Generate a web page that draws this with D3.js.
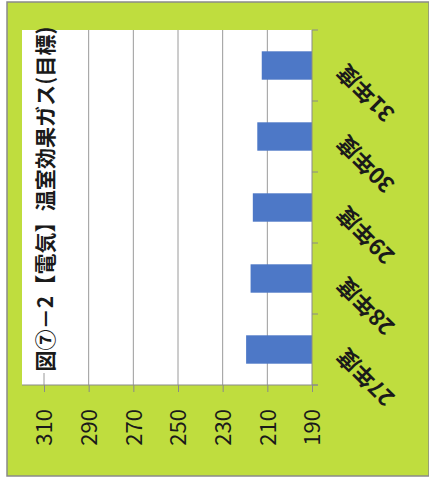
<!DOCTYPE html>
<html>
<head>
<meta charset="utf-8">
<script src="https://cdn.jsdelivr.net/npm/d3@7"></script>
<style>
  html, body { margin: 0; padding: 0; background: #ffffff; }
  svg { display: block; }
  text { font-family: "Noto Sans CJK JP", "Noto Sans", sans-serif; }
</style>
</head>
<body>
<svg id="chart" width="429" height="483"></svg>
<script>
// 温室効果ガス（目標）: 年度別の値
const categories = ["27年度", "28年度", "29年度", "30年度", "31年度"];
const values = [219.5, 217.5, 216.5, 214.5, 212.5];
const tickValues = [190, 210, 230, 250, 270, 290, 310];
const title = "図⑦－2【電気】温室効果ガス(目標)";

const svg = d3.select("#chart");
const W = 429, H = 483;

// chart frame
svg.append("rect").attr("x", 7).attr("y", 2).attr("width", W - 7).attr("height", 474)
  .attr("fill", "#bfdd3e").attr("stroke", "#8a8a8a").attr("stroke-width", 1.5);

// plot area (value axis runs right-to-left, categories bottom-to-top)
const plot = { left: 22, right: 312, top: 30, bottom: 385 };
svg.append("rect").attr("x", plot.left).attr("y", plot.top)
  .attr("width", plot.right - plot.left).attr("height", plot.bottom - plot.top)
  .attr("fill", "#ffffff");

const x = d3.scaleLinear().domain([190, 310]).range([plot.right, 44]);
const y = d3.scaleBand().domain(categories.slice().reverse())
  .range([plot.top, plot.bottom]).paddingInner(0.6).paddingOuter(0.3);

// gridlines
svg.append("g").selectAll("line").data(tickValues.filter(v => v !== 190)).join("line")
  .attr("x1", d => x(d)).attr("x2", d => x(d))
  .attr("y1", plot.top).attr("y2", plot.bottom)
  .attr("stroke", "#9a9a9a").attr("stroke-width", 1);

// bars
svg.append("g").selectAll("rect").data(categories).join("rect")
  .attr("x", (d, i) => x(values[i]))
  .attr("y", d => y(d))
  .attr("width", (d, i) => x(190) - x(values[i]))
  .attr("height", y.bandwidth())
  .attr("fill", "#4d78c7");

// value axis (bottom)
const xAxis = d3.axisBottom(x).tickValues(tickValues).tickSize(7).tickSizeOuter(0)
  .tickFormat(d3.format("d"));
const gx = svg.append("g").attr("transform", `translate(0,${plot.bottom})`).call(xAxis);
gx.select(".domain").attr("stroke", "#8a8a8a");
gx.selectAll(".tick line").attr("stroke", "#8a8a8a");
gx.selectAll(".tick text")
  .attr("transform", "translate(0,24) rotate(-90)")
  .attr("x", 0).attr("y", 0).attr("dy", "0.36em")
  .attr("text-anchor", "end")
  .attr("font-size", 22).attr("fill", "#1a1a1a");
gx.select(".domain").attr("d", `M${plot.left},0H${plot.right + 6}`);

// category axis (right) with boundary ticks
const bandStep = (plot.bottom - plot.top) / categories.length;
const catAxis = svg.append("g");
catAxis.append("line").attr("x1", plot.right).attr("x2", plot.right)
  .attr("y1", plot.top).attr("y2", plot.bottom).attr("stroke", "#8a8a8a");
catAxis.selectAll(".bt").data(d3.range(categories.length + 1)).join("line")
  .attr("class", "bt")
  .attr("x1", plot.right).attr("x2", plot.right + 6)
  .attr("y1", i => plot.top + i * bandStep).attr("y2", i => plot.top + i * bandStep)
  .attr("stroke", "#8a8a8a");
catAxis.selectAll("text").data(categories).join("text")
  .attr("transform", d => `translate(${plot.right + 29},${y(d) + y.bandwidth() / 2 + 3}) rotate(-135)`)
  .attr("text-anchor", "end").attr("dy", "0.36em")
  .attr("font-size", 22).attr("font-weight", "bold").attr("fill", "#1a1a1a")
  .text(d => d);

// title
svg.append("rect").attr("x", 31).attr("y", plot.top).attr("width", 28).attr("height", 343)
  .attr("fill", "#ffffff");
svg.append("text")
  .attr("transform", `translate(45,199) rotate(-90)`)
  .attr("text-anchor", "middle").attr("dy", "0.36em")
  .attr("font-size", 21).attr("font-weight", "bold").attr("fill", "#1a1a1a")
  .attr("textLength", 345).attr("lengthAdjust", "spacing")
  .text(title);
</script>
</body>
</html>
